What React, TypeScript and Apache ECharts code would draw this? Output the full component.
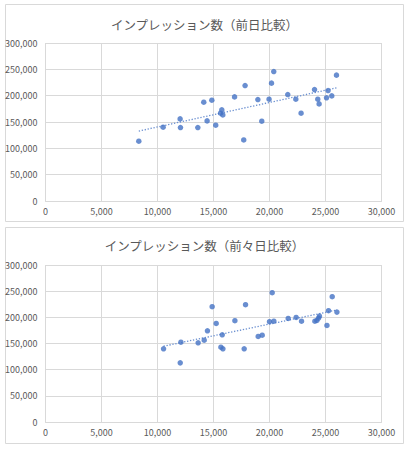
import React, { useEffect, useRef } from "react";
import * as echarts from "echarts";

const title1 = "インプレッション数（前日比較）";
const title2 = "インプレッション数（前々日比較）";

const x1 = [8330, 10500, 12020, 12050, 13600, 14130, 14430, 14850, 15200, 15630, 15740, 15830, 16880, 17820, 17700, 18960, 19310, 19960, 20180, 20380, 21630, 22350, 22820, 24020, 24310, 24430, 25090, 25230, 25560, 25980];
const y1 = [113500, 140100, 155900, 139400, 139400, 187600, 152100, 191400, 143900, 166700, 173000, 163500, 197700, 219200, 116000, 192600, 151500, 193300, 223800, 245800, 202100, 193300, 166700, 211600, 193300, 184400, 196000, 209700, 199600, 239000];

const x2 = [10540, 12030, 12090, 13630, 14170, 14460, 14880, 15240, 15660, 15780, 15840, 16910, 17740, 17860, 18990, 19350, 20000, 20240, 20390, 21670, 22380, 22860, 24050, 24230, 24380, 24460, 25130, 25270, 25600, 26020];
const y2 = [139800, 113000, 152500, 151300, 156300, 174300, 220300, 188300, 142900, 166700, 139800, 193500, 139800, 224100, 163400, 165900, 191600, 247000, 192700, 197900, 199800, 192700, 192700, 194000, 198500, 202300, 184500, 212600, 239500, 210000];

const xTicks = { min: 0, max: 30000, interval: 5000 };
const yTicks = { min: 0, max: 300000, interval: 50000 };

function trend(xs: number[], ys: number[]) {
  const n = xs.length;
  const mx = xs.reduce((a, b) => a + b, 0) / n;
  const my = ys.reduce((a, b) => a + b, 0) / n;
  let sxy = 0, sxx = 0;
  for (let i = 0; i < n; i++) {
    sxy += (xs[i] - mx) * (ys[i] - my);
    sxx += (xs[i] - mx) * (xs[i] - mx);
  }
  const b = sxy / sxx;
  const a = my - b * mx;
  const lo = Math.min(...xs), hi = Math.max(...xs);
  return [[lo, a + b * lo], [hi, a + b * hi]];
}

const FONT = "'Noto Sans CJK JP', 'Noto Sans', sans-serif";
const TXT = "#595959";
const GRID = "#d9d9d9";
const BLUE = "#4472C4";

function fmt(v: number) {
  return v.toLocaleString("en-US");
}

export default function App() {
  const ref = useRef<HTMLDivElement>(null);
  useEffect(() => {
    document.body.style.margin = "0";
    const chart = echarts.init(ref.current!, null, { renderer: "svg" });
    const mkX = (gi: number) => ({
      type: "value",
      gridIndex: gi,
      ...xTicks,
      axisLine: { show: true, lineStyle: { color: GRID } },
      axisTick: { show: false },
      splitLine: { show: true, lineStyle: { color: GRID, width: 1 } },
      axisLabel: { color: TXT, fontSize: 9, fontFamily: FONT, margin: 6, formatter: (v: number) => fmt(v) },
    });
    const mkY = (gi: number) => ({
      type: "value",
      gridIndex: gi,
      ...yTicks,
      axisLine: { show: false },
      axisTick: { show: false },
      splitLine: { show: true, lineStyle: { color: GRID, width: 1 } },
      axisLabel: { color: TXT, fontSize: 9, fontFamily: FONT, margin: 8, formatter: (v: number) => fmt(v) },
    });
    const scat = (xs: number[], ys: number[], gi: number) => ({
      type: "scatter",
      xAxisIndex: gi,
      yAxisIndex: gi,
      symbol: "circle",
      symbolSize: 5.5,
      itemStyle: { color: BLUE },
      data: xs.map((x, i) => [x, ys[i]]),
      z: 3,
    });
    const tl = (xs: number[], ys: number[], gi: number) => ({
      type: "line",
      xAxisIndex: gi,
      yAxisIndex: gi,
      symbol: "none",
      lineStyle: { color: "#6a8fd0", width: 1.3, type: [1.3, 1.7] },
      data: trend(xs, ys),
      z: 2,
    });
    chart.setOption({
      animation: false,
      backgroundColor: "#fff",
      title: [
        { text: title1, left: "center", top: 13, textStyle: { color: TXT, fontSize: 12.5, fontWeight: "normal", fontFamily: FONT } },
        { text: title2, left: "center", top: 234, textStyle: { color: TXT, fontSize: 12.5, fontWeight: "normal", fontFamily: FONT } },
      ],
      graphic: [
        { type: "rect", shape: { x: 5.5, y: 4.5, width: 398, height: 217 }, style: { fill: "none", stroke: GRID, lineWidth: 1 }, silent: true },
        { type: "rect", shape: { x: 5.5, y: 227.5, width: 398, height: 216 }, style: { fill: "none", stroke: GRID, lineWidth: 1 }, silent: true },
      ],
      grid: [
        { left: 45.5, top: 43, width: 336, height: 158 },
        { left: 45.5, top: 265, width: 336, height: 157 },
      ],
      xAxis: [mkX(0), mkX(1)],
      yAxis: [mkY(0), mkY(1)],
      series: [tl(x1, y1, 0), scat(x1, y1, 0), tl(x2, y2, 1), scat(x2, y2, 1)],
    });
    return () => chart.dispose();
  }, []);
  return <div ref={ref} style={{ width: 409, height: 450 }} />;
}
